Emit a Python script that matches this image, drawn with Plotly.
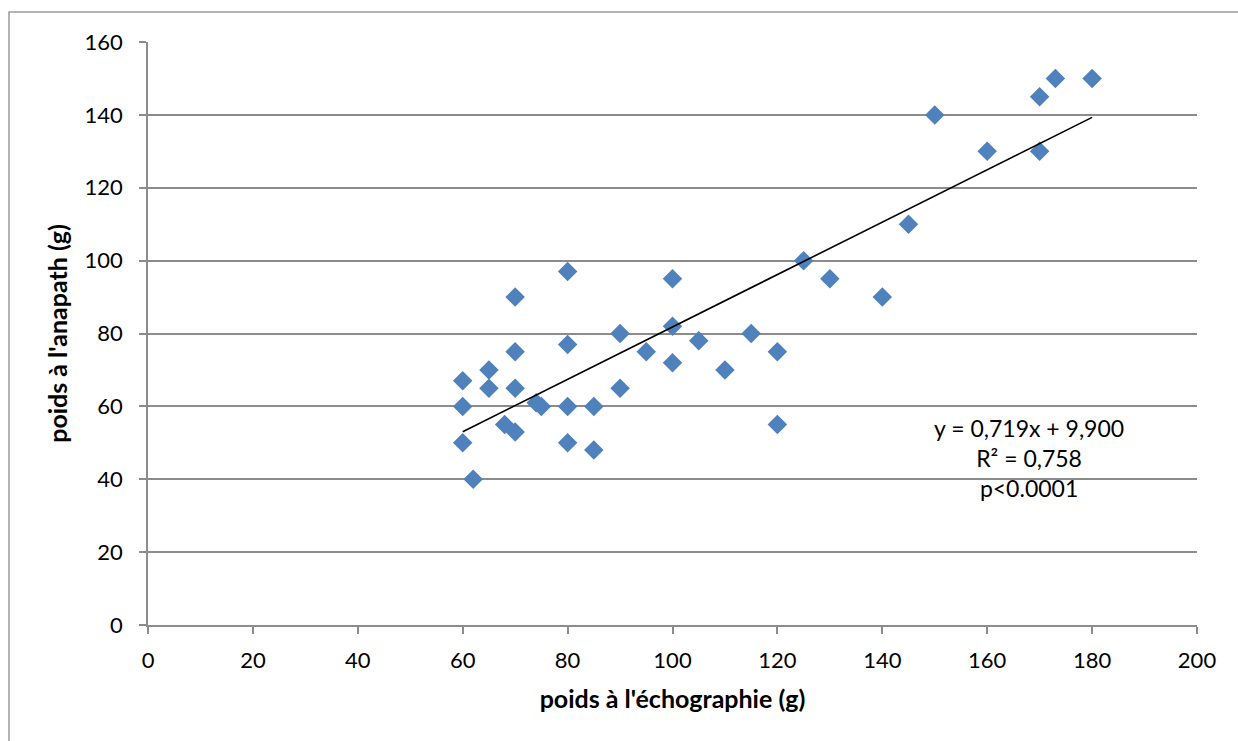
import plotly.graph_objects as go

# Data
echo_weight = [60, 60, 60, 62, 65, 65, 68, 70, 70, 70, 70, 74, 75, 80, 80, 80, 80,
               85, 85, 90, 90, 95, 100, 100, 100, 105, 110, 115, 120, 120, 125,
               130, 140, 145, 150, 160, 170, 170, 173, 180]
anapath_weight = [67, 60, 50, 40, 70, 65, 55, 90, 75, 65, 53, 61, 60, 97, 77, 60, 50,
                  60, 48, 80, 65, 75, 95, 82, 72, 78, 70, 80, 75, 55, 100,
                  95, 90, 110, 140, 130, 145, 130, 150, 150]

trend_slope = 0.719
trend_intercept = 9.900
trend_text = ["y = 0,719x + 9,900", "R² = 0,758", "p<0.0001"]

x_title = "poids à l'échographie (g)"
y_title = "poids à l'anapath (g)"

FONT = "Lato, 'Open Sans', sans-serif"
GRID = "#8c8c8c"

xmin, xmax = min(echo_weight), max(echo_weight)
trend_x = [xmin, xmax]
trend_y = [trend_slope * v + trend_intercept for v in trend_x]

fig = go.Figure()
fig.add_trace(go.Scatter(
    x=echo_weight, y=anapath_weight, mode="markers",
    marker=dict(symbol="diamond", size=15, color="#4F81BD",
                line=dict(width=0)),
    showlegend=False, hoverinfo="x+y"))
fig.add_trace(go.Scatter(
    x=trend_x, y=trend_y, mode="lines",
    line=dict(color="black", width=1.6),
    showlegend=False, hoverinfo="skip"))

fig.add_annotation(
    x=168, y=45.8, xref="x", yref="y",
    text="<br>".join(trend_text), showarrow=False,
    font=dict(family=FONT, size=23, color="black"),
    align="center", xanchor="center", yanchor="middle")

# outer chart border (left/top visible)
fig.add_shape(type="rect", xref="paper", yref="paper",
              x0=-0.1325, x1=1.2, y0=-0.4, y1=1.0515,
              line=dict(color="#9a9a9a", width=1.5), layer="below")

fig.update_layout(
    width=1238, height=741,
    margin=dict(l=148, r=41, t=42, b=116),
    paper_bgcolor="white", plot_bgcolor="white",
    font=dict(family=FONT, size=22, color="black"),
    xaxis=dict(
        range=[0, 200], tickvals=list(range(0, 201, 20)),
        showgrid=False, zeroline=False,
        showline=True, linecolor=GRID, linewidth=1.5,
        ticks="outside", ticklen=7, tickcolor=GRID, tickwidth=1.5,
        tickfont=dict(family=FONT, size=22),
        ticklabelstandoff=8,
        title=dict(text=f"<b>{x_title}</b>", font=dict(family=FONT, size=25), standoff=18),
    ),
    yaxis=dict(
        range=[0, 160], tickvals=list(range(0, 161, 20)),
        showgrid=True, gridcolor=GRID, gridwidth=1.5,
        zeroline=False,
        showline=True, linecolor=GRID, linewidth=1.5,
        ticks="outside", ticklen=7, tickcolor=GRID, tickwidth=1.5,
        tickfont=dict(family=FONT, size=22),
        ticklabelstandoff=12,
        title=dict(text=f"<b>{y_title}</b>", font=dict(family=FONT, size=25), standoff=10),
    ),
)

fig.write_html("out.html")
